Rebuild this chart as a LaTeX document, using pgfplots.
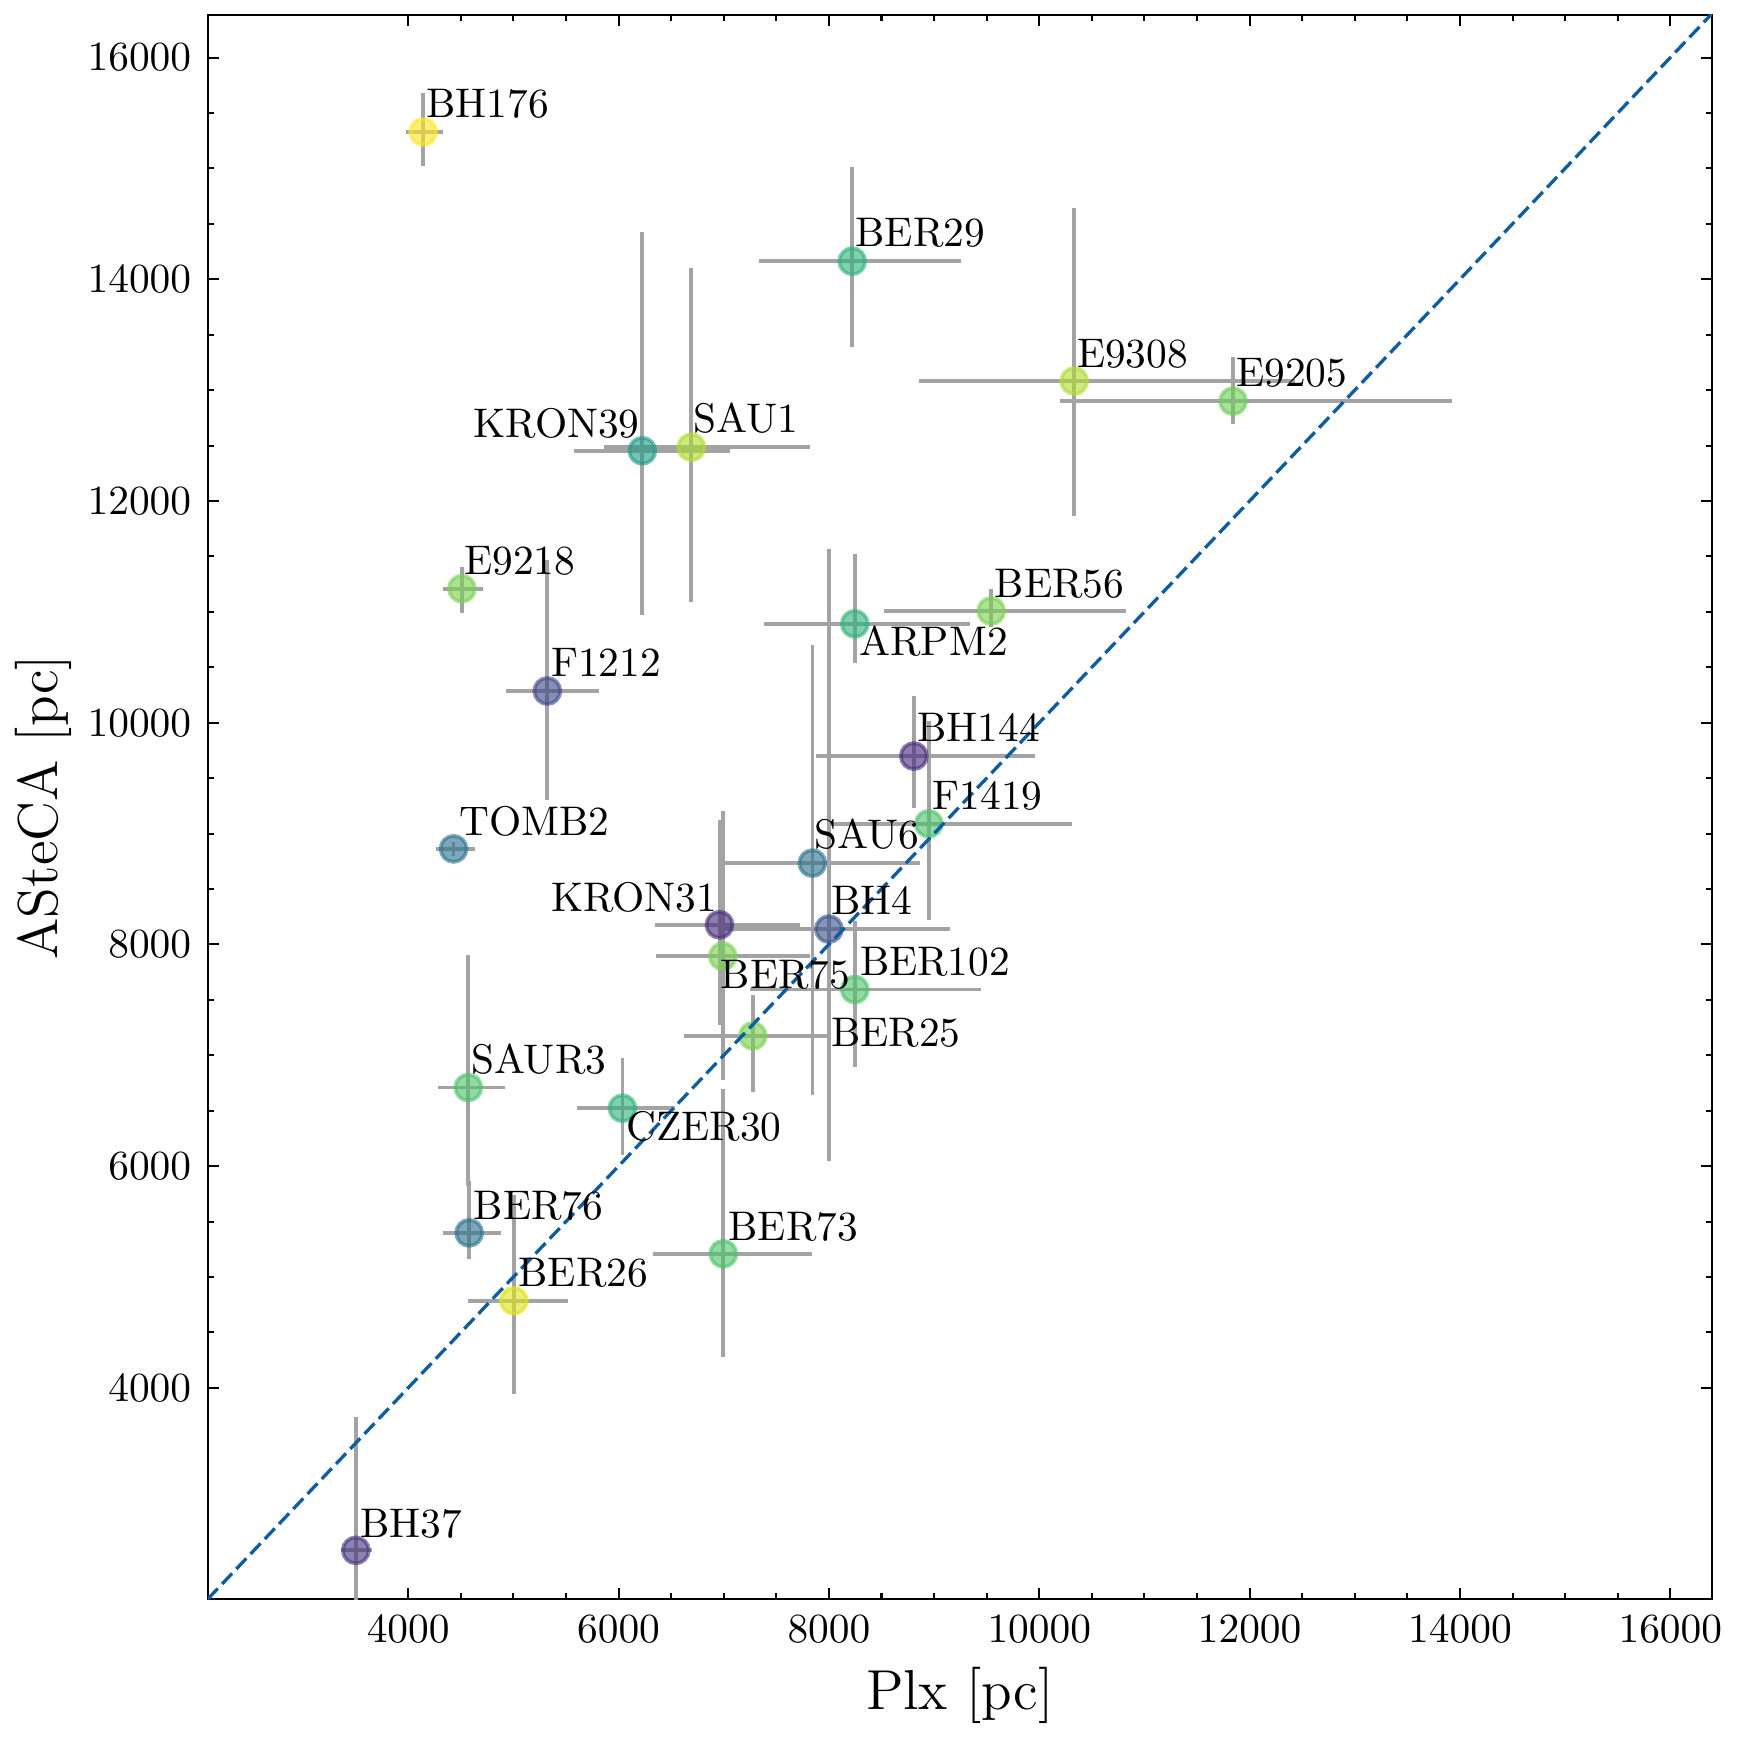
\documentclass[border=0pt]{standalone}
\usepackage{pgfplots}
\pgfplotsset{compat=1.18}
\usepackage{pgfplotstable}
\definecolor{errgray}{HTML}{A3A3A3}
\definecolor{diagblue}{HTML}{0C5DA5}

\pgfplotstableread{
name x y exm exp eym eyp c
BH176 4143 15329 166 184 309 353 1.00
BER29 8222 14163 889 1037 778 853 0.65
KRON39 6226 12453 650 830 1477 1971 0.55
SAU1 6692 12485 834 1129 1393 1613 0.88
E9218 4511 11209 184 199 215 195 0.80
F1212 5323 10286 397 488 986 1179 0.22
ARPM2 8246 10892 863 1098 355 629 0.65
BH144 8808 9699 927 1154 471 546 0.12
F1419 8950 9088 972 1357 866 923 0.72
SAU6 7843 8733 837 1027 2090 1972 0.38
BH4 8000 8138 1023 1150 2095 3429 0.25
KRON31 6960 8177 614 765 900 941 0.12
BER75 6991 7893 636 831 1119 1307 0.80
BER102 8246 7593 1000 1199 703 616 0.72
BER25 7277 7175 654 747 503 368 0.80
SAUR3 4572 6709 291 345 890 1197 0.72
CZER30 6037 6522 433 503 424 452 0.65
TOMB2 4432 8862 165 200 60 60 0.38
BER76 4580 5398 253 300 232 472 0.38
BER26 5004 4785 437 512 839 955 0.95
BER73 6996 5209 664 844 928 1486 0.72
BH37 3502 2534 143 157 1200 1202 0.15
E9308 10333 13082 1474 2100 1221 1561 0.88
E9205 11843 12900 1647 2082 210 396 0.78
BER56 9543 11008 1021 1278 149 201 0.80
}\data

\begin{document}
\begin{tikzpicture}
\begin{axis}[
  scale only axis, width=363.3pt, height=382.7pt,
  at={(0,0)}, anchor=south west,
  xmin=2095, xmax=16395, ymin=2093, ymax=16385,
  xtick={4000,6000,...,16000}, ytick={4000,6000,...,16000},
  minor tick num=3,
  tick align=inside,
  major tick length=2.7pt, minor tick length=1.4pt,
  axis line style={line width=0.6pt},
  every tick/.style={black, line width=0.5pt},
  scaled ticks=false,
  xticklabel style={/pgf/number format/1000 sep={}},
  yticklabel style={/pgf/number format/1000 sep={}},
  xticklabel shift=0.5pt, yticklabel shift=0.5pt,
  colormap/viridis, point meta min=0, point meta max=1,
  clip mode=individual,
]
\addplot[draw=none, mark=none, forget plot,
  error bars/.cd, x dir=both, x explicit, y dir=both, y explicit,
  error bar style={draw=errgray, line width=0.9pt}, error mark=none]
  table[x=x, y=y, x error plus=exp, x error minus=exm, y error plus=eyp, y error minus=eym]{\data};
\addplot[scatter, only marks, mark=*, mark size=3.15pt,
  point meta=explicit,
  scatter/use mapped color={draw=mapped color, fill=mapped color},
  mark options={fill opacity=0.62, draw opacity=0.62, line width=0.9pt}]
  table[x=x, y=y, meta=c]{\data};
\addplot[diagblue, line width=0.8pt, dash pattern=on 3.5pt off 1.5pt, forget plot]
  coordinates {(2095,2095) (16395,16395)};

\begin{scope}[every node/.style={anchor=base west, inner sep=0pt}]
\node at (axis cs:4166,15459) {BH176};
\node at (axis cs:8246,14294) {BER29};
\node at (axis cs:4613,12569) {KRON39};
\node at (axis cs:6701,12616) {SAU1};
\node at (axis cs:4525,11334) {E9218};
\node at (axis cs:5350,10416) {F1212};
\node at (axis cs:8282,10603) {ARPM2};
\node at (axis cs:8834,9831) {BH144};
\node at (axis cs:8979,9221) {F1419};
\node at (axis cs:7858,8869) {SAU6};
\node at (axis cs:8015,8267) {BH4};
\node at (axis cs:8288,7720) {BER102};
\node at (axis cs:6966,7606) {BER75};
\node at (axis cs:8015,7080) {BER25};
\node at (axis cs:4479,8978) {TOMB2};
\node at (axis cs:5350,8293) {KRON31};
\node at (axis cs:4590,6834) {SAUR3};
\node at (axis cs:6065,6228) {CZER30};
\node at (axis cs:4617,5520) {BER76};
\node at (axis cs:7038,5329) {BER73};
\node at (axis cs:5042,4910) {BER26};
\node at (axis cs:3534,2654) {BH37};
\node at (axis cs:10352,13203) {E9308};
\node at (axis cs:11866,13035) {E9205};
\node at (axis cs:9571,11125) {BER56};
\end{scope}
\end{axis}
\node[anchor=base] at (181.65pt,-26.7pt) {\fontsize{13.6}{16}\selectfont Plx [pc]};
\node[anchor=base, rotate=90] at (-36.2pt,191.35pt) {\fontsize{13.6}{16}\selectfont ASteCA [pc]};
\pgfresetboundingbox
\path[use as bounding box] (-50.2pt,-34pt) rectangle (369.2pt,386.3pt);
\end{tikzpicture}
\end{document}
